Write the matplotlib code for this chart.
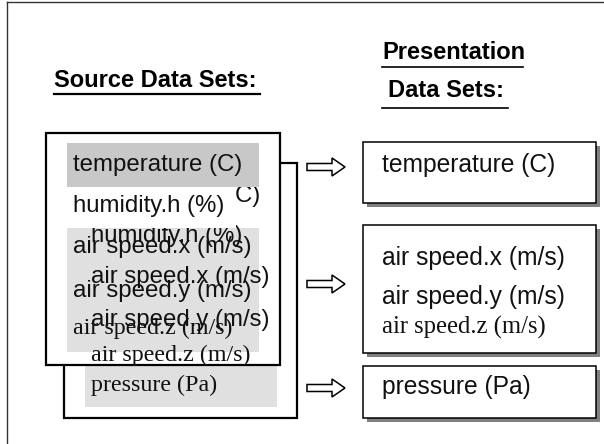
import matplotlib.pyplot as plt
from matplotlib.patches import Rectangle, FancyArrow

# labels shown in the diagram
front_labels = ["temperature (C)", "humidity.h (%)", "air speed.x (m/s)",
                "air speed.y (m/s)", "air speed.z (m/s)"]
back_labels = ["temperature (C)", "humidity.h (%)", "air speed.x (m/s)",
               "air speed.y (m/s)", "air speed.z (m/s)", "pressure (Pa)"]
right_groups = [["temperature (C)"],
                ["air speed.x (m/s)", "air speed.y (m/s)", "air speed.z (m/s)"],
                ["pressure (Pa)"]]
# which labels are set in a serif face on each side
serif_left = ["air speed.z (m/s)", "pressure (Pa)"]
serif_right = ["air speed.z (m/s)"]

SANS = "Liberation Sans"
SERIF = "Liberation Serif"
FS = 17.3

# baselines (pixel coords, y downwards)
front_y = [171, 212, 253, 297, 334]
back_y = [202, 242, 283, 326, 361, 391]
right_boxes = [(142, 203), (225, 353), (366, 418)]
right_y = [[172], [265, 304, 334], [394]]
arrow_y = [167, 284, 388]

fig = plt.figure(figsize=(6.04, 4.44), dpi=100)
ax = fig.add_axes([0, 0, 1, 1])
ax.set_xlim(0, 604)
ax.set_ylim(444, 0)
ax.axis("off")

# outer frame (top and left only visible)
ax.plot([7, 604], [2, 2], color="#333333", lw=1)
ax.plot([7, 7], [2, 444], color="#333333", lw=1)


def label(x, y, s, serif_set, size=FS, **kw):
    fam = SERIF if s in serif_set else SANS
    ax.text(x, y, s, family=fam, fontsize=size, va="baseline", ha="left",
            color="#111111", **kw)


# headings
ax.text(54, 87, "Source Data Sets:", family=SANS, weight="bold", fontsize=17, va="baseline")
ax.plot([54, 260], [94, 94], color="black", lw=1.6)
ax.text(382, 59, "Presentation", family=SANS, weight="bold", fontsize=17, va="baseline")
ax.plot([382, 523], [67, 67], color="black", lw=1.2)
ax.text(388, 97, "Data Sets:", family=SANS, weight="bold", fontsize=17, va="baseline")
ax.plot([382, 508], [108, 108], color="black", lw=1.2)

# back stacked box
ax.add_patch(Rectangle((64, 163), 233, 255, facecolor="white", edgecolor="black", lw=1.6, zorder=1))
ax.add_patch(Rectangle((85, 366), 192, 41, facecolor="#e0e0e0", edgecolor="none", zorder=1.1))

# front box
ax.add_patch(Rectangle((46, 133), 234, 232, facecolor="white", edgecolor="black", lw=1.6, zorder=2))
ax.add_patch(Rectangle((67, 228), 192, 124, facecolor="#e0e0e0", edgecolor="none", zorder=2.1))

# back box text (shows through)
for s, y in zip(back_labels, back_y):
    label(91, y, s, serif_left, zorder=3)

# temperature band and white humidity row of the front box cover the back text
ax.add_patch(Rectangle((67, 143), 192, 44, facecolor="#c8c8c8", edgecolor="none", zorder=3.5))
ax.add_patch(Rectangle((67, 187), 169, 41, facecolor="white", edgecolor="none", zorder=3.5))

for s, y in zip(front_labels, front_y):
    label(73, y, s, serif_left, zorder=4)

# right presentation boxes with drop shadow
for (top, bot), group, ys, ay in zip(right_boxes, right_groups, right_y, arrow_y):
    ax.add_patch(Rectangle((367, top + 4), 233, bot - top, facecolor="#808080",
                           edgecolor="none", zorder=1))
    ax.add_patch(Rectangle((363, top), 233, bot - top, facecolor="white",
                           edgecolor="black", lw=1.1, zorder=2))
    for s, y in zip(group, ys):
        label(382, y, s, serif_right, size=17.7, zorder=3)
    ax.add_patch(FancyArrow(307, ay, 38, 0, width=7, head_width=18, head_length=13,
                            length_includes_head=True, facecolor="white",
                            edgecolor="black", lw=1.1, zorder=3))

fig.savefig("out.png", dpi=100)
